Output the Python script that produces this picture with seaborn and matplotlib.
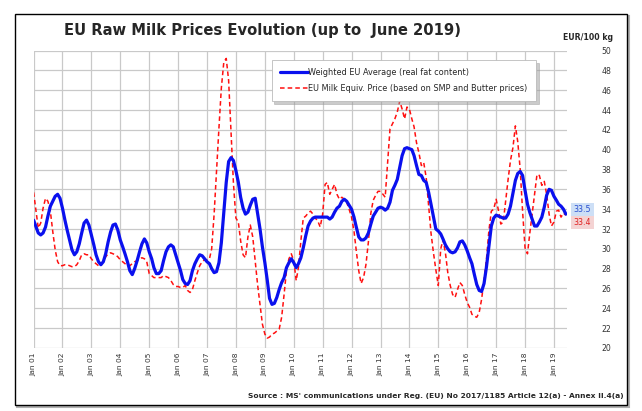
import matplotlib
matplotlib.use('Agg')
import matplotlib.pyplot as plt
import matplotlib.dates as mdates
from matplotlib.patches import Rectangle
from matplotlib.transforms import blended_transform_factory
import seaborn as sns
import pandas as pd

# monthly prices, EUR/100 kg, Jan 2001 - Jun 2019
weighted_avg = [
    32.9, 32.2, 31.6, 31.4, 31.6, 32.2, 33.3, 34.3, 34.8, 35.3, 35.5, 35.1,  # 2001
    34.1, 32.9, 31.9, 30.9, 29.9, 29.4, 29.7, 30.5, 31.6, 32.6, 32.9, 32.4,  # 2002
    31.4, 30.4, 29.4, 28.7, 28.4, 28.7, 29.5, 30.7, 31.7, 32.4, 32.5, 31.9,  # 2003
    30.9, 30.2, 29.5, 28.7, 27.8, 27.4, 28.0, 28.8, 29.7, 30.5, 31.0, 30.6,  # 2004
    29.7, 29.0, 28.1, 27.5, 27.5, 27.8, 28.8, 29.7, 30.2, 30.4, 30.2, 29.4,  # 2005
    28.6, 27.8, 26.9, 26.5, 26.4, 26.8, 27.8, 28.5, 29.0, 29.4, 29.3, 29.0,  # 2006
    28.7, 28.5, 28.0, 27.6, 27.7, 28.6, 30.6, 33.6, 36.7, 38.8, 39.2, 38.9,  # 2007
    37.9, 36.7, 35.2, 34.1, 33.5, 33.7, 34.4, 35.0, 35.1, 33.6, 32.0, 30.2,  # 2008
    28.6, 26.8, 25.0, 24.4, 24.5, 25.1, 25.9, 26.6, 27.1, 28.1, 28.6, 29.0,  # 2009
    28.6, 28.1, 28.5, 29.1, 30.1, 31.3, 32.3, 32.8, 33.1, 33.2, 33.2, 33.2,  # 2010
    33.2, 33.2, 33.2, 33.0, 33.2, 33.7, 34.1, 34.3, 34.8, 35.0, 34.8, 34.4,  # 2011
    34.0, 33.2, 32.2, 31.2, 30.9, 30.9, 31.1, 31.6, 32.5, 33.3, 33.7, 34.1,  # 2012
    34.2, 34.1, 33.9, 34.1, 34.7, 35.9, 36.4, 37.0, 38.2, 39.4, 40.1, 40.2,  # 2013
    40.1, 40.0, 39.4, 38.4, 37.5, 37.4, 36.9, 36.7, 35.7, 34.5, 33.2, 32.0,  # 2014
    31.8, 31.5, 31.0, 30.4, 30.0, 29.7, 29.6, 29.7, 30.1, 30.7, 30.8, 30.4,  # 2015
    29.8, 29.1, 28.5, 27.4, 26.4, 25.8, 25.7, 26.5, 28.2, 30.2, 32.3, 33.1,  # 2016
    33.4, 33.3, 33.2, 33.1, 33.1, 33.5, 34.3, 35.6, 36.9, 37.6, 37.8, 37.4,  # 2017
    35.9, 34.5, 33.7, 33.0, 32.3, 32.3, 32.7, 33.2, 34.2, 35.4, 36.0, 35.9,  # 2018
    35.3, 34.9, 34.5, 34.3, 34.0, 33.5,                                      # 2019
]

milk_equiv = [
    35.7, 33.8, 32.1, 32.6, 34.1, 35.1, 34.8, 33.8, 31.7, 29.9, 28.7, 28.3,  # 2001
    28.3, 28.4, 28.4, 28.3, 28.2, 28.2, 28.4, 28.8, 29.4, 29.5, 29.4, 29.4,  # 2002
    29.0, 28.7, 28.5, 28.3, 28.3, 28.7, 29.2, 29.5, 29.6, 29.5, 29.4, 29.2,  # 2003
    28.9, 28.7, 28.5, 28.3, 28.3, 28.5, 28.7, 28.8, 29.0, 29.1, 29.0, 28.7,  # 2004
    27.5, 27.3, 27.1, 27.1, 27.1, 27.1, 27.3, 27.2, 27.1, 26.8, 26.4, 26.2,  # 2005
    26.2, 26.1, 26.1, 26.3, 25.8, 25.6, 25.9, 26.8, 27.6, 28.3, 28.7, 28.9,  # 2006
    28.9, 29.0, 30.0, 33.5, 37.8, 42.2, 46.2, 48.8, 49.2, 47.0, 41.6, 36.6,  # 2007
    33.1, 32.7, 30.8, 29.4, 29.1, 31.2, 32.4, 31.2, 28.8, 26.4, 24.4, 22.4,  # 2008
    21.4, 21.0, 21.1, 21.4, 21.5, 21.7, 21.9, 23.1, 25.4, 27.8, 29.0, 29.5,  # 2009
    28.8, 26.8, 28.1, 30.8, 33.1, 33.3, 33.6, 33.8, 33.5, 33.1, 32.8, 32.2,  # 2010
    33.5, 36.5, 36.7, 35.5, 36.0, 36.5, 35.5, 35.0, 35.2, 35.0, 34.7, 34.0,  # 2011
    33.2, 31.8, 29.8, 27.8, 26.5, 27.1, 28.4, 30.7, 33.6, 34.9, 35.4, 35.8,  # 2012
    35.8, 35.5, 35.2, 38.7, 42.1, 42.6, 43.1, 43.8, 44.9, 44.1, 43.1, 44.3,  # 2013
    44.1, 43.1, 42.3, 40.7, 39.7, 38.4, 38.7, 37.2, 34.3, 31.6, 29.6, 27.9,  # 2014
    26.3, 30.0, 30.9, 29.6, 27.6, 26.3, 25.4, 25.1, 25.9, 26.6, 26.3, 25.4,  # 2015
    24.6, 24.1, 23.4, 23.2, 23.1, 23.6, 24.9, 26.8, 29.0, 31.8, 33.8, 34.0,  # 2016
    35.0, 33.8, 32.5, 32.7, 34.8, 37.0, 38.9, 40.2, 42.4, 40.8, 38.0, 33.8,  # 2017
    30.1, 29.5, 31.5, 33.5, 35.5, 37.5, 37.4, 36.4, 36.8, 35.5, 33.5, 32.3,  # 2018
    32.7, 33.8, 33.9, 33.2, 33.6, 33.4,                                      # 2019
]

months = pd.date_range('2001-01-01', periods=len(weighted_avg), freq='MS')
y_ticks = list(range(20, 51, 2))

df = pd.DataFrame({'date': months, 'avg': weighted_avg, 'equiv': milk_equiv})

sns.set_style('white')
plt.rcParams['font.family'] = ['DejaVu Sans']

fig = plt.figure(figsize=(6.42, 4.11), dpi=100)

# outer frame with a soft shadow (drawn behind the axes)
fig.patches.append(Rectangle((17 / 642, 1 - 407 / 411), 612 / 642, 391 / 411,
                             transform=fig.transFigure, fill=False,
                             edgecolor='#b0b0b0', linewidth=1.5, zorder=-2))
fig.patches.append(Rectangle((15 / 642, 1 - 405 / 411), 612 / 642, 391 / 411,
                             transform=fig.transFigure, fill=True, facecolor='white',
                             edgecolor='black', linewidth=1.0, zorder=-1))

ax = fig.add_axes([0.0523, 0.1533, 0.8316, 0.7238])
ax.patch.set_alpha(0)

sns.lineplot(data=df, x='date', y='avg', ax=ax, color='#0a10ee', linewidth=2.3,
             label='Weighted EU Average (real fat content)', zorder=3)
sns.lineplot(data=df, x='date', y='equiv', ax=ax, color='#ff1010', linewidth=1.1,
             linestyle=(0, (3, 2)),
             label='EU Milk Equiv. Price (based on SMP and Butter prices)', zorder=2)

ax.set_xlim(pd.Timestamp('2001-01-01'), pd.Timestamp('2019-06-21'))
ax.set_ylim(20, 50)
ax.set_yticks(y_ticks)
ax.xaxis.set_major_locator(mdates.YearLocator())
ax.xaxis.set_major_formatter(mdates.DateFormatter('%b %y'))
ax.grid(True, color='#c9c9c9', linewidth=0.9)
ax.set_axisbelow(True)
for s in ax.spines.values():
    s.set_visible(False)
ax.set_xlabel('')
ax.set_ylabel('')

ax.yaxis.tick_right()
ax.tick_params(axis='y', length=0, pad=24.5, labelsize=5.6, labelcolor='#333333')
ax.tick_params(axis='x', length=0, pad=3, labelsize=5.4, labelcolor='#333333',
               labelrotation=90)

leg = ax.legend(loc='upper left', bbox_to_anchor=(0.438, 0.982), fontsize=5.9,
                handlelength=3.4, handletextpad=0.1, labelspacing=0.85,
                borderpad=1.0, fancybox=False, edgecolor='#bbbbbb',
                shadow={'color': '0.6', 'alpha': 0.5})
leg.get_frame().set_linewidth(0.6)

# last-value boxes on the right edge
tr = blended_transform_factory(ax.transAxes, ax.transData)
ax.text(1.028, weighted_avg[-1] + 0.45, f'{weighted_avg[-1]:.1f}', transform=tr,
        ha='center', va='center', fontsize=5.7, color='#2a4fd0', clip_on=False,
        bbox=dict(boxstyle='square,pad=0.3', fc='#cddff6', ec='none'))
ax.text(1.028, milk_equiv[-1] - 0.75, f'{milk_equiv[-1]:.1f}', transform=tr,
        ha='center', va='center', fontsize=5.7, color='#e02020', clip_on=False,
        bbox=dict(boxstyle='square,pad=0.3', fc='#f4d3d3', ec='none'))

fig.text(262 / 642, 1 - 30 / 411, 'EU Raw Milk Prices Evolution (up to  June 2019)',
         ha='center', va='center', fontsize=10.6, fontweight='bold')
fig.text(588 / 642, 1 - 37 / 411, 'EUR/100 kg', ha='center', va='center',
         fontsize=5.6, fontweight='bold')
fig.text(624 / 642, 1 - 396 / 411,
         "Source : MS' communications under Reg. (EU) No 2017/1185 Article 12(a) - Annex II.4(a)",
         ha='right', va='center', fontsize=5.4, fontweight='bold')

fig.savefig('out.png', dpi=100)
